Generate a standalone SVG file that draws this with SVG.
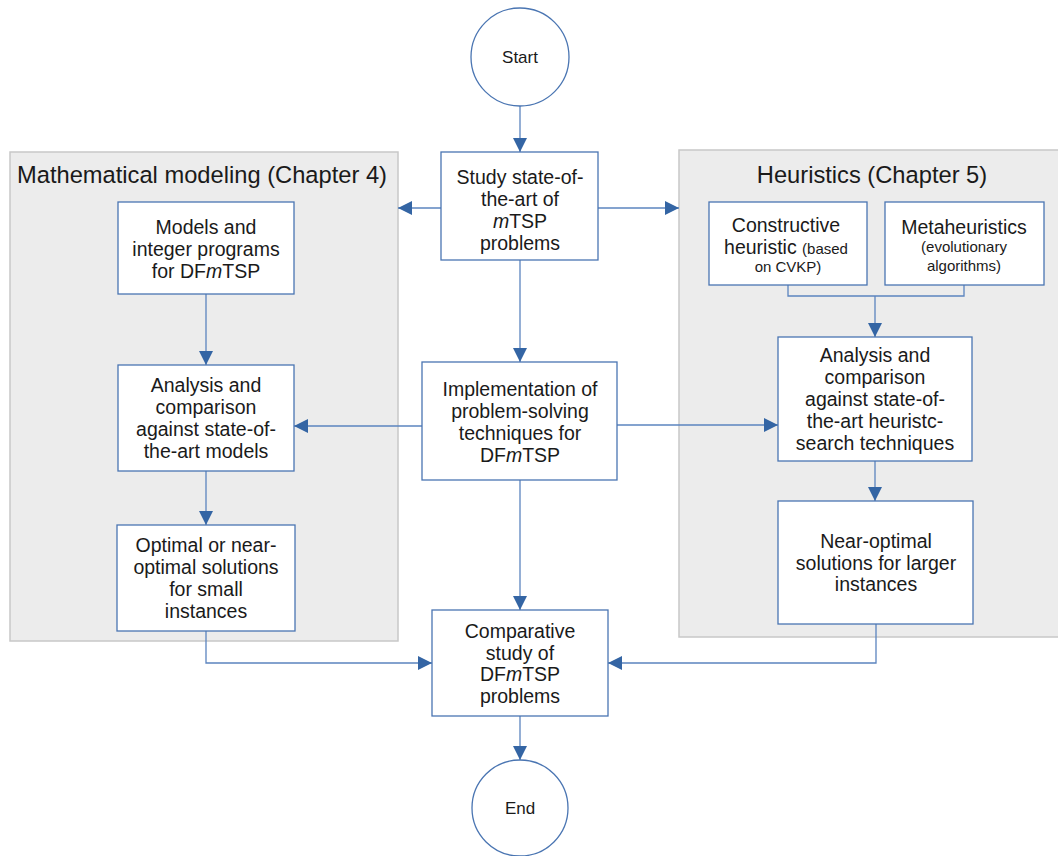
<svg xmlns="http://www.w3.org/2000/svg" width="1058" height="856" viewBox="0 0 1058 856">
<style>
text{font-family:"Liberation Sans",Arial,sans-serif;fill:#1a1a1a;text-anchor:middle}
.t{font-size:19.5px}
.s{font-size:15px}
.ttl{font-size:23.7px}
.panel{fill:#ececec;stroke:#c8c8c8;stroke-width:1.5}
.box{fill:#fff;stroke:#4a75b2;stroke-width:1.3}
.c{fill:none;stroke:#5b84bf;stroke-width:1.3}
</style>
<defs>
<marker id="b" viewBox="0 0 14 14" refX="14" refY="7" markerWidth="14" markerHeight="14" markerUnits="userSpaceOnUse" orient="auto">
<path d="M0,0 L14,7 L0,14 Z" fill="#3465a4"/>
</marker>
</defs>
<g id="panel-math"><rect class="panel" x="10" y="152" width="388" height="489"/><text class="ttl" x="202" y="183">Mathematical modeling (Chapter 4)</text></g>
<g id="panel-heur"><rect class="panel" x="679" y="150" width="385" height="487"/><text class="ttl" x="872" y="183">Heuristics (Chapter 5)</text></g>
<g id="connectors">
<path class="c" d="M520,106 V152" marker-end="url(#b)"/>
<path class="c" d="M441,208 H398" marker-end="url(#b)"/>
<path class="c" d="M598,208 H679" marker-end="url(#b)"/>
<path class="c" d="M520,260 V362" marker-end="url(#b)"/>
<path class="c" d="M206,294 V365" marker-end="url(#b)"/>
<path class="c" d="M206,471 V525" marker-end="url(#b)"/>
<path class="c" d="M422,426 H294" marker-end="url(#b)"/>
<path class="c" d="M617,425 H778" marker-end="url(#b)"/>
<path class="c" d="M788,285 V296 H964 V285"/>
<path class="c" d="M875,296 V337" marker-end="url(#b)"/>
<path class="c" d="M875,461 V501" marker-end="url(#b)"/>
<path class="c" d="M520,480 V610" marker-end="url(#b)"/>
<path class="c" d="M206,631 V663 H432" marker-end="url(#b)"/>
<path class="c" d="M876,624 V663 H608" marker-end="url(#b)"/>
<path class="c" d="M520,716 V760" marker-end="url(#b)"/>
</g>
<g id="start"><circle class="box" cx="520" cy="57" r="49"/><text style="font-size:17px" x="520" y="63">Start</text></g>
<g id="study"><rect class="box" x="441" y="152" width="157" height="108"/>
<text class="t" x="520" y="184">Study state-of-</text><text class="t" x="520" y="206">the-art of</text><text class="t" x="520" y="228"><tspan font-style="italic">m</tspan>TSP</text><text class="t" x="520" y="250">problems</text></g>
<g id="models"><rect class="box" x="118" y="202" width="176" height="92"/>
<text class="t" x="206" y="234">Models and</text><text class="t" x="206" y="256">integer programs</text><text class="t" x="206" y="278">for DF<tspan font-style="italic">m</tspan>TSP</text></g>
<g id="analysis-left"><rect class="box" x="118" y="365" width="176" height="106"/>
<text class="t" x="206" y="392">Analysis and</text><text class="t" x="206" y="414">comparison</text><text class="t" x="206" y="436">against state-of-</text><text class="t" x="206" y="458">the-art models</text></g>
<g id="optimal"><rect class="box" x="117" y="525" width="178" height="106"/>
<text class="t" x="206" y="552">Optimal or near-</text><text class="t" x="206" y="574">optimal solutions</text><text class="t" x="206" y="596">for small</text><text class="t" x="206" y="618">instances</text></g>
<g id="implementation"><rect class="box" x="422" y="362" width="195" height="118"/>
<text class="t" x="520" y="396">Implementation of</text><text class="t" x="520" y="418">problem-solving</text><text class="t" x="520" y="440">techniques for</text><text class="t" x="520" y="462">DF<tspan font-style="italic">m</tspan>TSP</text></g>
<g id="constructive"><rect class="box" x="709" y="202" width="158" height="83"/>
<text class="t" x="786" y="232">Constructive</text><text class="t" x="786" y="254">heuristic <tspan class="s">(based</tspan></text><text class="s" x="788" y="272">on CVKP)</text></g>
<g id="metaheuristics"><rect class="box" x="885" y="202" width="159" height="83"/>
<text class="t" x="964" y="234">Metaheuristics</text><text class="s" x="964" y="252">(evolutionary</text><text class="s" x="964" y="271">algorithms)</text></g>
<g id="analysis-right"><rect class="box" x="778" y="337" width="194" height="124"/>
<text class="t" x="875" y="362">Analysis and</text><text class="t" x="875" y="384">comparison</text><text class="t" x="875" y="406">against state-of-</text><text class="t" x="875" y="428">the-art heuristc-</text><text class="t" x="875" y="450">search techniques</text></g>
<g id="near-optimal"><rect class="box" x="778" y="501" width="195" height="123"/>
<text class="t" x="876" y="548">Near-optimal</text><text class="t" x="876" y="570">solutions for larger</text><text class="t" x="876" y="591">instances</text></g>
<g id="comparative"><rect class="box" x="432" y="610" width="176" height="106"/>
<text class="t" x="520" y="638">Comparative</text><text class="t" x="520" y="660">study of</text><text class="t" x="520" y="681">DF<tspan font-style="italic">m</tspan>TSP</text><text class="t" x="520" y="703">problems</text></g>
<g id="end"><circle class="box" cx="520" cy="808" r="48"/><text style="font-size:17px" x="520" y="814">End</text></g>
</svg>
